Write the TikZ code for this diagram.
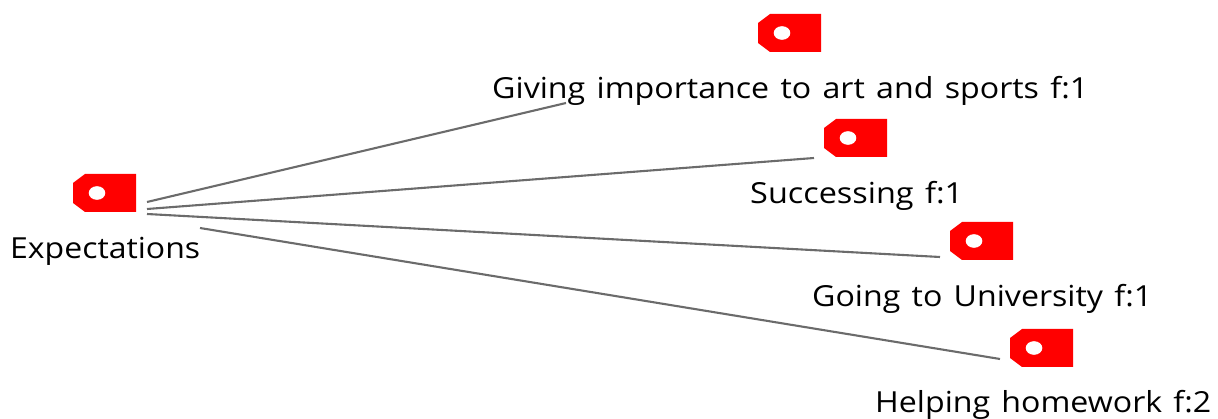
\documentclass[tikz,border=0pt]{standalone}
\usepackage{fontspec}
\usepackage{graphicx}
\setmainfont[WordSpace=1.35]{Open Sans}
\newcommand{\fitlab}[2]{\resizebox{#1pt}{\height}{#2}}
\tikzset{
  x=1pt,y=-1pt,
  tagbody/.style={fill=red,draw=none},
  taghole/.style={fill=white,draw=none},
  link/.style={draw=black!58,line width=2.1pt},
  lab/.style={inner sep=0pt,anchor=base west,text=black,font=\fontsize{29}{32}\selectfont},
  pics/pricetag/.style={code={
    \fill[tagbody] (12,0) -- (63,0) -- (63,38) -- (12,38) -- (0,29) -- (0,9) -- cycle;
    \fill[taghole] (24,19) ellipse (8.3pt and 6.8pt);
  }}
}
\begin{document}
\begin{tikzpicture}
\useasboundingbox (0,0) rectangle (1218,419);
\pic at (73,174) {pricetag};
\pic at (758,14) {pricetag};
\pic at (824,119) {pricetag};
\pic at (950,222) {pricetag};
\pic at (1010,329) {pricetag};
\node[lab] (root) at (10,259) {\fitlab{190}{Expectations}};
\node[lab] (giving) at (492,99) {\fitlab{596}{Giving importance to art and sports f:1}};
\node[lab] (succ) at (750,204) {\fitlab{213}{Successing f:1}};
\node[lab] (going) at (812,307) {\fitlab{340}{Going to University f:1}};
\node[lab] (help) at (875,413) {\fitlab{336}{Helping homework f:2}};
\coordinate (s1) at (147,202); \coordinate (e1) at (566,103);
\coordinate (s2) at (147,209); \coordinate (e2) at (814,158);
\coordinate (s3) at (147,214); \coordinate (e3) at (940,257);
\coordinate (s4) at (200,228); \coordinate (e4) at (1000,359);
\draw[link] (s1) -- (e1);
\draw[link] (s2) -- (e2);
\draw[link] (s3) -- (e3);
\draw[link] (s4) -- (e4);
\end{tikzpicture}
\end{document}
